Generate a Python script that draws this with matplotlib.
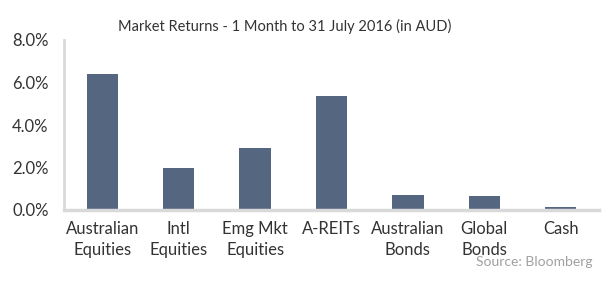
import matplotlib
matplotlib.use("Agg")
import matplotlib.pyplot as plt
from matplotlib.ticker import FuncFormatter

categories = ["Australian\nEquities", "Intl\nEquities", "Emg Mkt\nEquities", "A-REITs",
              "Australian\nBonds", "Global\nBonds", "Cash"]
returns = [6.38, 1.98, 2.90, 5.35, 0.72, 0.67, 0.12]
yticks = [0, 2, 4, 6, 8]

plt.rcParams['font.family'] = ['Lato', 'DejaVu Sans']

fig = plt.figure(figsize=(6.07, 2.83), dpi=100)
ax = fig.add_axes([64 / 607, 1 - 210 / 283, 535 / 607, 170 / 283])

x = range(len(categories))
ax.bar(x, returns, width=0.41, color="#556680", zorder=2)

ax.set_xlim(-0.5, len(categories) - 0.5)
ax.set_ylim(0, 8)
ax.set_yticks(yticks)
ax.yaxis.set_major_formatter(FuncFormatter(lambda v, p: f"{v:.1f}%"))
ax.set_xticks(list(x))
ax.set_xticklabels(categories, linespacing=1.4)

for s in ["top", "right"]:
    ax.spines[s].set_visible(False)
ax.spines["left"].set_color("#d9d9d9")
ax.spines["left"].set_linewidth(2)
ax.spines["bottom"].set_color("#d9d9d9")
ax.spines["bottom"].set_linewidth(2.5)

ax.tick_params(axis="both", length=0, labelsize=12, colors="#333333")
ax.tick_params(axis="y", pad=11)
ax.tick_params(axis="x", pad=8)

fig.text(285 / 607, 1 - 26 / 283, "Market Returns - 1 Month to 31 July 2016 (in AUD)",
         ha="center", va="center", fontsize=10.5, color="#333333")
fig.text(593 / 607, 1 - 262 / 283, "Source: Bloomberg", ha="right", va="center",
         fontsize=10, color="#a0a0a0")

fig.savefig("out.png", dpi=100)
